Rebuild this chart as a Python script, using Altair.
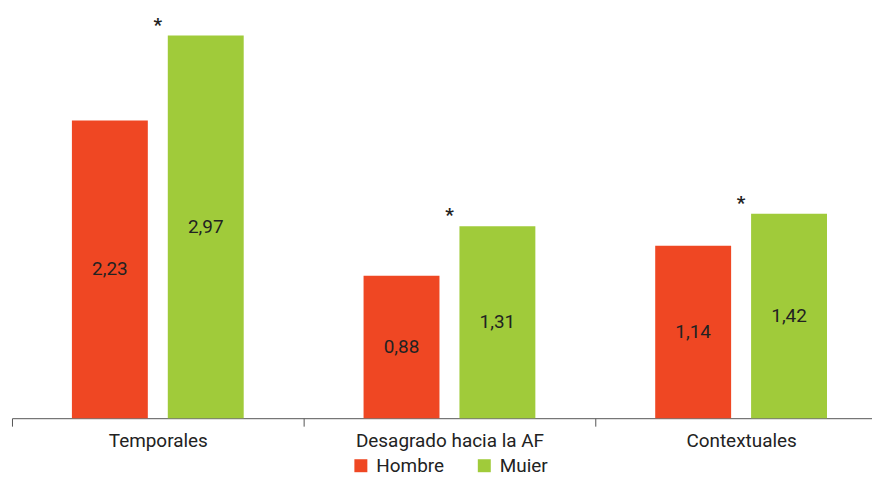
import altair as alt
import pandas as pd

categories = ["Temporales", "Desagrado hacia la AF", "Contextuales"]
groups = ["Hombre", "Muier"]
hombre = [2.23, 0.88, 1.14]
mujer = [2.97, 1.31, 1.42]
hombre_labels = ["2,23", "0,88", "1,14"]
mujer_labels = ["2,97", "1,31", "1,42"]
signif = ["*", "*", "*"]

Y_MIN = -0.36
Y_MAX = 3.2

rows = []
for i, c in enumerate(categories):
    rows.append({"cat": c, "grupo": groups[0], "v": hombre[i], "lab": hombre_labels[i], "star": ""})
    rows.append({"cat": c, "grupo": groups[1], "v": mujer[i], "lab": mujer_labels[i], "star": signif[i]})
df = pd.DataFrame(rows)
df["base"] = Y_MIN
df["mid"] = (df["v"] + Y_MIN) / 2

FONT = "Roboto"
x_enc = alt.X("cat:N", sort=categories, title=None,
              scale=alt.Scale(paddingInner=0, paddingOuter=0, range=[0, 879]),
              axis=alt.Axis(labelAngle=0, labelFont=FONT, labelFontSize=19, labelColor="#222222",
                            domainColor="#555555", tickColor="#555555", tickSize=8,
                            tickBand="extent", labelPadding=5, labelLimit=0, grid=False))
xoff = alt.XOffset("grupo:N", sort=groups,
                   scale=alt.Scale(paddingInner=0.2083, paddingOuter=0.625))
y_scale = alt.Scale(domain=[Y_MIN, Y_MAX], zero=False, nice=False)

bars = alt.Chart(df).mark_bar().encode(
    x=x_enc,
    xOffset=xoff,
    y=alt.Y("v:Q", scale=y_scale, axis=None),
    y2="base:Q",
    color=alt.Color("grupo:N", sort=groups,
                    scale=alt.Scale(domain=groups, range=["#EF4723", "#A0CB3A"]),
                    legend=alt.Legend(title=None, orient="none", direction="horizontal",
                                      legendX=341, legendY=449, symbolType="square",
                                      symbolSize=170, symbolStrokeWidth=0,
                                      labelFont=FONT, labelFontSize=19, labelColor="#222222",
                                      columnPadding=30, labelOffset=6, padding=0)),
)

labels = alt.Chart(df).mark_text(font=FONT, fontSize=19, color="#222222").encode(
    x=alt.X("cat:N", sort=categories),
    xOffset=xoff,
    y=alt.Y("mid:Q", scale=y_scale),
    text="lab:N",
)

stars = alt.Chart(df[df["star"] != ""]).mark_text(font=FONT, fontSize=19, fontWeight="bold",
                                                  color="#222222", dy=-11, baseline="middle").encode(
    x=alt.X("cat:N", sort=categories),
    y=alt.Y("v:Q", scale=y_scale),
    text="star:N",
)

chart = alt.layer(bars, labels, stars).properties(
    width=864, height=411,
    autosize=alt.AutoSizeParams(type="none"),
    padding={"left": 4, "top": 0, "right": 0, "bottom": 60},
).configure_view(stroke=None)

chart.save("out.html", embed_options={"renderer": "svg", "actions": False})
